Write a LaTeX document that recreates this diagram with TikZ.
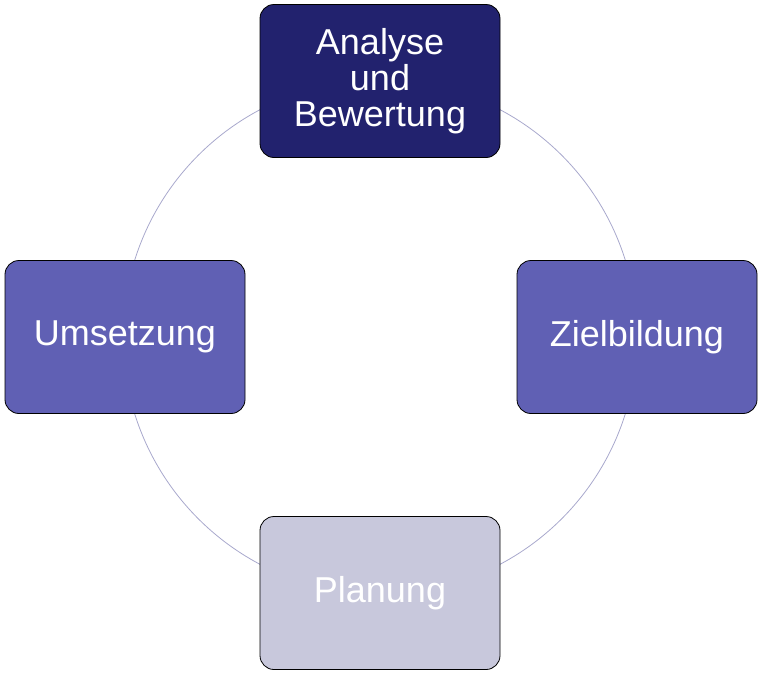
\documentclass[tikz,border=0pt]{standalone}
\usepackage{fontspec}
\setmainfont{Liberation Sans}
\definecolor{boxdark}{HTML}{22226E}
\definecolor{boxmid}{HTML}{6060B4}
\definecolor{boxlight}{HTML}{C8C8DC}
\definecolor{ringline}{HTML}{A8A8CC}

\begin{document}
\begin{tikzpicture}[x=1pt,y=-1pt]
   \tikzset{phase/.style={draw=black, line width=0.8pt, rounded corners=14pt, fill=#1,
        minimum width=240pt, minimum height=153pt, align=center, text=white,
        inner sep=0pt, font=\fontsize{36}{36}\selectfont}};

\useasboundingbox (0,0) rectangle (760,675);

\coordinate (c) at (380,337);
\draw[ringline, line width=0.8pt] (c) circle[radius=257pt];

\node[phase=boxdark] (analyse) at (380,81) {Analyse\\und\\Bewertung};
\node[phase=boxmid] (ziel) at (637,337) {Zielbildung};
\node[phase=boxlight] (plan) at (380,593) {Planung};
\node[phase=boxmid] (umsetz) at (125,337) {Umsetzung};

\end{tikzpicture}
\end{document}
